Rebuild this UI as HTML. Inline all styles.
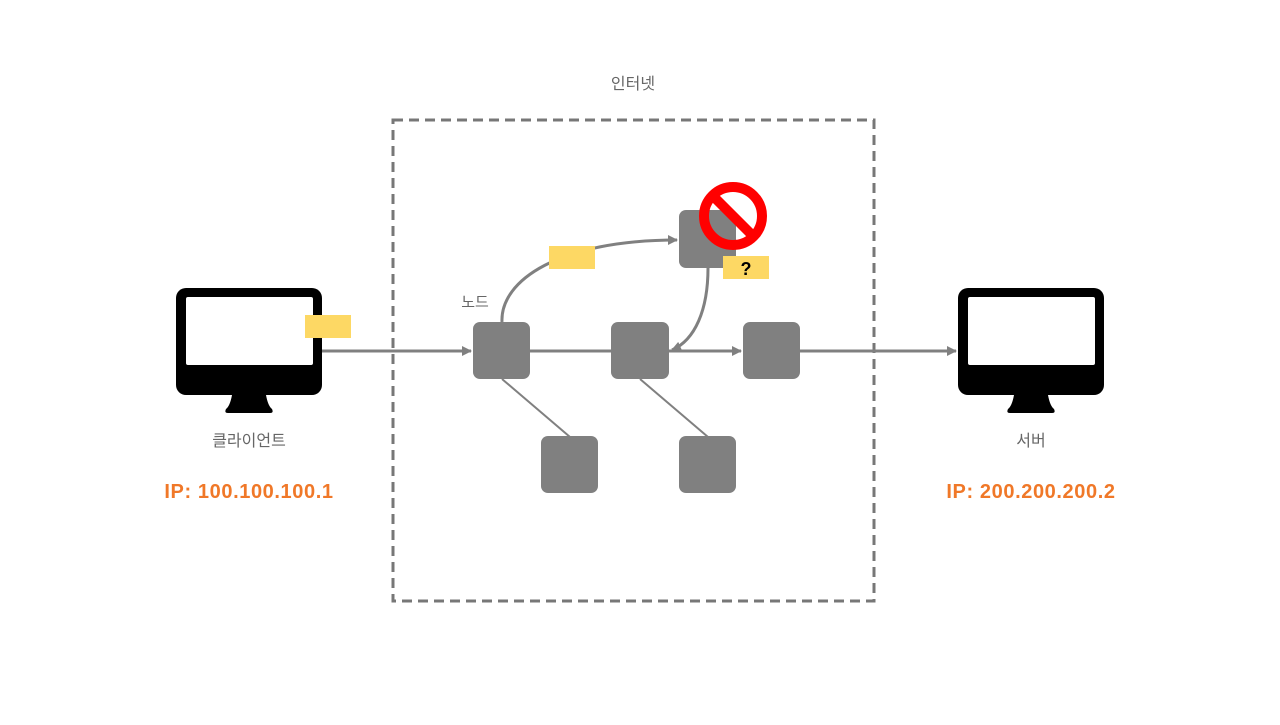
<!DOCTYPE html>
<html><head><meta charset="utf-8"><style>
body{margin:0;background:#fff}
svg text{font-family:"Liberation Sans","Noto Sans CJK KR",sans-serif}
</style></head><body>
<svg width="1280" height="720" viewBox="0 0 1280 720" xmlns="http://www.w3.org/2000/svg">
<defs>
<marker id="a" markerWidth="10" markerHeight="10" refX="9" refY="5" orient="auto" markerUnits="userSpaceOnUse"><path d="M0,0 L10,5 L0,10 z" fill="#808080"/></marker>
<g id="mon">
<rect x="0" y="0" width="146" height="107" rx="10" fill="#000"/>
<rect x="10" y="9" width="127" height="68" rx="2" fill="#fff"/>
<path d="M56,107 L90,107 Q92,118 96,121 Q98,125 94,125 L52,125 Q48,125 50,121 Q54,118 56,107 z" fill="#000"/>
</g>
</defs>
<text x="633" y="89" font-size="16" fill="#666" text-anchor="middle">인터넷</text>
<rect x="393" y="120" width="481" height="481" fill="none" stroke="#777" stroke-width="3" stroke-dasharray="10,6"/>
<use href="#mon" x="176" y="288"/>
<use href="#mon" x="958" y="288"/>
<text x="249" y="446" font-size="16" fill="#666" text-anchor="middle">클라이언트</text>
<text x="1031" y="446" font-size="16" fill="#666" text-anchor="middle">서버</text>
<text x="249" y="498" font-size="20" font-weight="bold" fill="#f07828" text-anchor="middle" letter-spacing="0.6">IP: 100.100.100.1</text>
<text x="1031" y="498" font-size="20" font-weight="bold" fill="#f07828" text-anchor="middle" letter-spacing="0.6">IP: 200.200.200.2</text>
<text x="475" y="307" font-size="15" fill="#666" text-anchor="middle">노드</text>
<g stroke="#808080" stroke-width="3" fill="none">
<line x1="322" y1="351" x2="471" y2="351" marker-end="url(#a)"/>
<line x1="530" y1="351" x2="612" y2="351"/>
<line x1="668" y1="351" x2="741" y2="351" marker-end="url(#a)"/>
<line x1="800" y1="351" x2="956" y2="351" marker-end="url(#a)"/>
<path d="M502,322 C500,280 560,240 677,240" marker-end="url(#a)"/>
<path d="M708,268 C708,310 695,340 672,350" marker-end="url(#a)"/>
</g>
<g stroke="#808080" stroke-width="2">
<line x1="502" y1="379" x2="570" y2="437"/>
<line x1="640" y1="379" x2="708" y2="437"/>
</g>
<g fill="#808080">
<rect x="473" y="322" width="57" height="57" rx="7"/>
<rect x="611" y="322" width="58" height="57" rx="7"/>
<rect x="743" y="322" width="57" height="57" rx="7"/>
<rect x="541" y="436" width="57" height="57" rx="7"/>
<rect x="679" y="436" width="57" height="57" rx="7"/>
<rect x="679" y="210" width="57" height="58" rx="7"/>
</g>
<rect x="305" y="315" width="46" height="23" fill="#fdd864"/>
<rect x="549" y="246" width="46" height="23" fill="#fdd864"/>
<rect x="723" y="256" width="46" height="23" fill="#fdd864"/>
<text x="746" y="275" font-size="18" font-weight="bold" fill="#000" text-anchor="middle">?</text>
<circle cx="733" cy="216" r="29" fill="none" stroke="#ff0000" stroke-width="10"/>
<line x1="713" y1="196" x2="753" y2="236" stroke="#ff0000" stroke-width="10"/>
</svg>
</body></html>
